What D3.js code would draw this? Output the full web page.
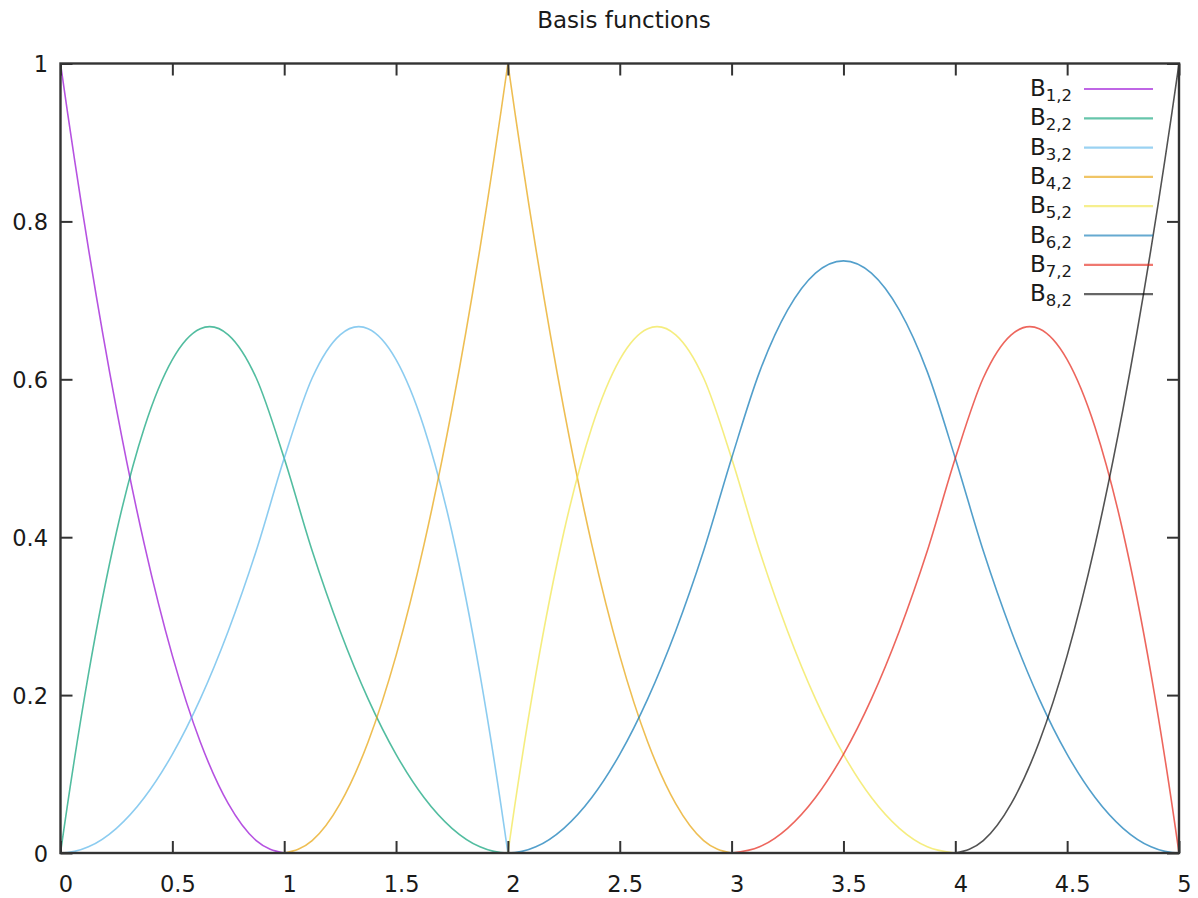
<!DOCTYPE html>
<html>
<head>
<meta charset="utf-8">
<script src="https://cdn.jsdelivr.net/npm/d3@7"></script>
<style>
  html, body { margin: 0; padding: 0; background: #fff; }
  svg { display: block; font-family: "DejaVu Sans", sans-serif; }
</style>
</head>
<body>
<svg id="chart" width="1198" height="898"></svg>
<script>
// ---- data (sampled at x = 0, 0.125, ..., 5) ----
const xValues = [0,0.125,0.25,0.375,0.5,0.625,0.75,0.875,1,1.125,1.25,1.375,1.5,1.625,1.75,1.875,2,
  2.125,2.25,2.375,2.5,2.625,2.75,2.875,3,3.125,3.25,3.375,3.5,3.625,3.75,3.875,4,
  4.125,4.25,4.375,4.5,4.625,4.75,4.875,5];

const b1 = [1,.7656,.5625,.3906,.25,.1406,.0625,.0156,0,
  0,0,0,0,0,0,0,0, 0,0,0,0,0,0,0,0, 0,0,0,0,0,0,0,0, 0,0,0,0,0,0,0,0];
const b2 = [0,.2266,.4063,.5391,.625,.6641,.6563,.6016,.5,.3828,.2813,.1953,.125,.0703,.0313,.0078,0,
  0,0,0,0,0,0,0,0, 0,0,0,0,0,0,0,0, 0,0,0,0,0,0,0,0];
const b3 = [0,.0078,.0313,.0703,.125,.1953,.2813,.3828,.5,.6016,.6563,.6641,.625,.5391,.4063,.2266,0,
  0,0,0,0,0,0,0,0, 0,0,0,0,0,0,0,0, 0,0,0,0,0,0,0,0];
const b4 = [0,0,0,0,0,0,0,0,0,
  .0156,.0625,.1406,.25,.3906,.5625,.7656,1,
  .7656,.5625,.3906,.25,.1406,.0625,.0156,0,
  0,0,0,0,0,0,0,0, 0,0,0,0,0,0,0,0];
const b5 = [0,0,0,0,0,0,0,0,0, 0,0,0,0,0,0,0,0,
  .2266,.4063,.5391,.625,.6641,.6563,.6016,.5,
  .3828,.2813,.1953,.125,.0703,.0313,.0078,0,
  0,0,0,0,0,0,0,0];
const b6 = [0,0,0,0,0,0,0,0,0, 0,0,0,0,0,0,0,0,
  .0078,.0313,.0703,.125,.1953,.2813,.3828,.5,
  .6094,.6875,.7344,.75,.7344,.6875,.6094,.5,
  .3828,.2813,.1953,.125,.0703,.0313,.0078,0];
const b7 = [0,0,0,0,0,0,0,0,0, 0,0,0,0,0,0,0,0, 0,0,0,0,0,0,0,0,
  .0078,.0313,.0703,.125,.1953,.2813,.3828,.5,
  .6016,.6563,.6641,.625,.5391,.4063,.2266,0];
const b8 = [0,0,0,0,0,0,0,0,0, 0,0,0,0,0,0,0,0, 0,0,0,0,0,0,0,0, 0,0,0,0,0,0,0,0,
  .0156,.0625,.1406,.25,.3906,.5625,.7656,1];

const seriesValues = [b1, b2, b3, b4, b5, b6, b7, b8];
const seriesIndex = ["1", "2", "3", "4", "5", "6", "7", "8"];
const seriesColors = ["#9400d3", "#009e73", "#56b4e9", "#e69f00", "#f0e442", "#0072b2", "#e51e10", "#000000"];
const breakX = 2;   // double knot: curves have a corner here

const xTicks = [0, 0.5, 1, 1.5, 2, 2.5, 3, 3.5, 4, 4.5, 5];
const xTickLabels = ["0", "0.5", "1", "1.5", "2", "2.5", "3", "3.5", "4", "4.5", "5"];
const yTicks = [0, 0.2, 0.4, 0.6, 0.8, 1];
const yTickLabels = ["0", "0.2", "0.4", "0.6", "0.8", "1"];
const titleText = "Basis functions";

// ---- layout ----
const L = 60.5, R = 1179, T = 63.5, B = 853;
const svg = d3.select("#chart");
const x = d3.scaleLinear().domain([0, 5]).range([L, R]);
const y = d3.scaleLinear().domain([0, 1]).range([B, T]);

svg.append("defs").append("clipPath").attr("id", "plotclip")
  .append("rect").attr("x", L).attr("y", T - 1).attr("width", R - L).attr("height", B - T + 2);

// ---- curves ----
const line = d3.line()
  .x(d => x(d[0])).y(d => y(d[1]))
  .curve(d3.curveCardinalOpen.tension(0));

function pieceWithEnds(pts) {
  // add end control points (quadratic extrapolation) used only as tangent guides
  const n = pts.length;
  const h0 = pts[1][0] - pts[0][0];
  const first = [pts[0][0] - h0, 3 * pts[0][1] - 3 * pts[1][1] + pts[2][1]];
  const h1 = pts[n - 1][0] - pts[n - 2][0];
  const last = [pts[n - 1][0] + h1, 3 * pts[n - 1][1] - 3 * pts[n - 2][1] + pts[n - 3][1]];
  return [first, ...pts, last];
}

const gCurves = svg.append("g").attr("clip-path", "url(#plotclip)");
seriesValues.forEach((vals, i) => {
  const pts = xValues.map((xv, k) => [xv, vals[k]]);
  const left = pts.filter(p => p[0] <= breakX);
  const right = pts.filter(p => p[0] >= breakX);
  [left, right].forEach(piece => {
    gCurves.append("path")
      .attr("d", line(pieceWithEnds(piece)))
      .attr("fill", "none")
      .attr("stroke", seriesColors[i])
      .attr("stroke-opacity", 0.68)
      .attr("stroke-width", 1.6)
      .attr("stroke-linejoin", "round");
  });
});

// ---- axes (inward ticks, mirrored) ----
const axisColor = "#333333";
function styleAxis(g) {
  g.select(".domain").remove();
  g.selectAll(".tick line").attr("stroke", axisColor).attr("stroke-width", 2);
}
const gx = svg.append("g").attr("transform", `translate(0,${B})`)
  .call(d3.axisBottom(x).tickValues(xTicks).tickSizeInner(-12).tickSizeOuter(0)
    .tickFormat((d, i) => xTickLabels[i]))
  .call(styleAxis);
gx.selectAll(".tick text")
  .attr("y", 39).attr("dy", null).attr("dx", 5)
  .attr("fill", "#1a1a1a").style("font-size", "22.5px").style("font-family", "DejaVu Sans, sans-serif");

const gy = svg.append("g").attr("transform", `translate(${L},0)`)
  .call(d3.axisLeft(y).tickValues(yTicks).tickSizeInner(-12).tickSizeOuter(0)
    .tickFormat((d, i) => yTickLabels[i]))
  .call(styleAxis);
gy.selectAll(".tick text")
  .attr("x", -12.5).attr("dy", "0.36em")
  .attr("fill", "#1a1a1a").style("font-size", "22.5px").style("font-family", "DejaVu Sans, sans-serif");

svg.append("g").attr("transform", `translate(0,${T})`)
  .call(d3.axisTop(x).tickValues(xTicks).tickSizeInner(-12).tickSizeOuter(0).tickFormat(""))
  .call(styleAxis);
svg.append("g").attr("transform", `translate(${R},0)`)
  .call(d3.axisRight(y).tickValues(yTicks).tickSizeInner(-12).tickSizeOuter(0).tickFormat(""))
  .call(styleAxis);

// border
svg.append("rect").attr("x", L).attr("y", T).attr("width", R - L).attr("height", B - T)
  .attr("fill", "none").attr("stroke", axisColor).attr("stroke-width", 2.4);

// ---- title ----
svg.append("text").attr("x", 624).attr("y", 28).attr("text-anchor", "middle")
  .attr("fill", "#1a1a1a").style("font-size", "23px").text(titleText);

// ---- legend ----
const legend = svg.append("g");
seriesIndex.forEach((idx, i) => {
  const cy = 89 + i * 29.3;
  const t = legend.append("text").attr("x", 1072).attr("y", cy + 7)
    .attr("text-anchor", "end").attr("fill", "#1a1a1a").style("font-size", "23px");
  t.append("tspan").text("B");
  t.append("tspan").attr("dy", 5).style("font-size", "16.5px").text(idx + ",2");
  legend.append("line").attr("x1", 1084).attr("x2", 1153).attr("y1", cy).attr("y2", cy)
    .attr("stroke", seriesColors[i]).attr("stroke-opacity", 0.6).attr("stroke-width", 2.2);
});
</script>
</body>
</html>
